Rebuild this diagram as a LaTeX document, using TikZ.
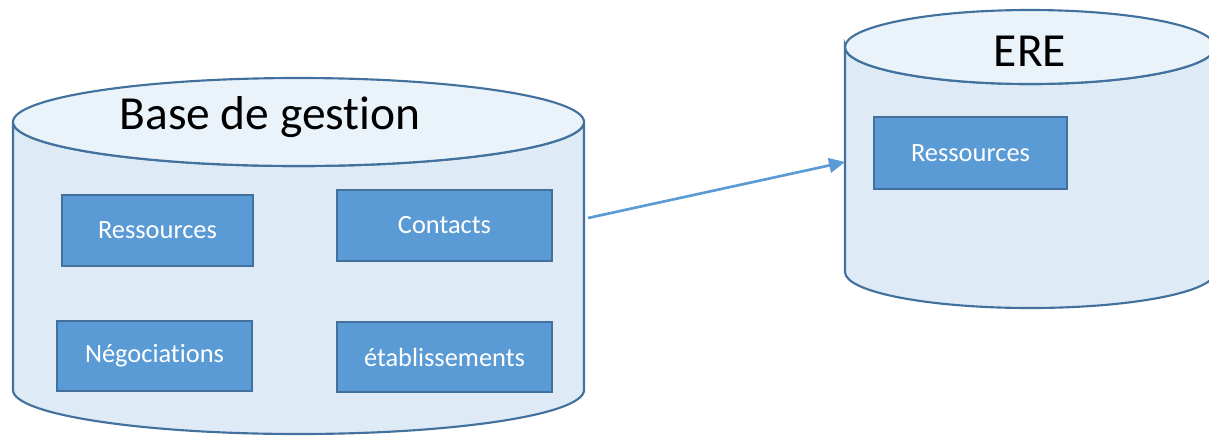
\documentclass[tikz,border=0pt]{standalone}
\usepackage{fontspec}
\setmainfont{Carlito}[Ligatures={NoCommon}]
\usetikzlibrary{arrows.meta}
\definecolor{canbody}{HTML}{DEEAF6}
\definecolor{cantop}{HTML}{EAF2FA}
\definecolor{canline}{HTML}{41719C}
\definecolor{boxfill}{HTML}{5B9BD5}
\tikzset{
  canedge/.style={draw=canline, line width=1.6pt},
  tablebox/.style={draw=canline, line width=1.4pt, fill=boxfill, text=white, inner sep=0pt,
    font=\fontsize{19.8}{23}\selectfont},
  bigtitle/.style={font=\fontsize{35.6}{40}\selectfont, text=black, inner sep=0pt},
  flow/.style={draw=boxfill, line width=2pt, -{Triangle[length=12pt,width=11pt]}}
}
\begin{document}
\begin{tikzpicture}[x=0.75pt,y=-0.75pt]
\useasboundingbox (0,0) rectangle (1209,437);
\clip (0,0) rectangle (1209,437);
% left cylinder
\path[fill=canbody, canedge] (13,122) -- (13,390)
  arc[start angle=180,end angle=0,x radius=285.5,y radius=44] -- (584,122)
  arc[start angle=0,end angle=180,x radius=285.5,y radius=44] -- cycle;
\path[fill=cantop, canedge] (298.5,122) ellipse [x radius=285.5, y radius=44];
% right cylinder
\path[fill=canbody, canedge] (845,47) -- (845,272)
  arc[start angle=180,end angle=0,x radius=185,y radius=36] -- (1215,47)
  arc[start angle=0,end angle=180,x radius=185,y radius=37] -- cycle;
\path[fill=cantop, canedge] (1030,47) ellipse [x radius=185, y radius=37];
% titles
\node[bigtitle] (base) at (270,117) {Base de gestion};
\node[bigtitle] (ere) at (1030,51) {ERE};
% boxes
\node[tablebox, minimum width=143.25pt, minimum height=53.25pt] (res1) at (157.5,230.5) {Ressources};
\node[tablebox, minimum width=161.25pt, minimum height=53.25pt] (con) at (444.5,225.5) {Contacts};
\node[tablebox, minimum width=146.25pt, minimum height=52.5pt] (neg) at (154.5,356) {Négociations};
\node[tablebox, minimum width=161.25pt, minimum height=52.5pt] (etab) at (444.5,357) {établissements};
\node[tablebox, minimum width=144.75pt, minimum height=54pt] (res2) at (970.5,153) {Ressources};
% connector
\coordinate (src) at (588,218);
\coordinate (dst) at (845,162);
\draw[flow] (src) -- (dst);
\end{tikzpicture}
\end{document}
